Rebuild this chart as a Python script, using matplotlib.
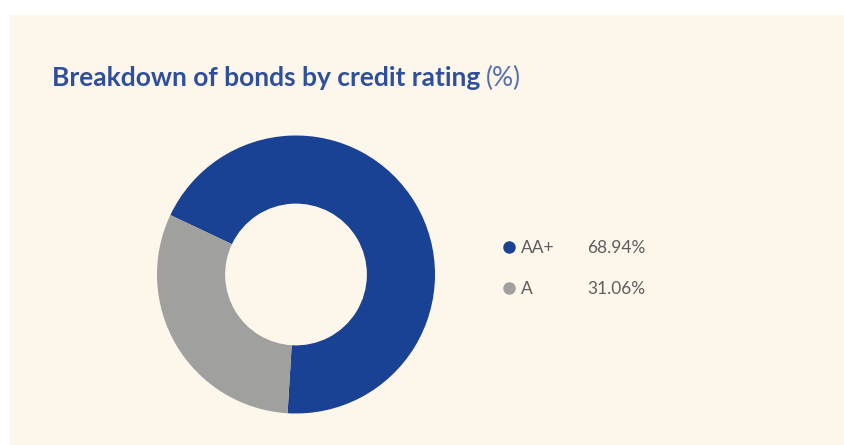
import matplotlib.pyplot as plt
from matplotlib.patches import Rectangle

# credit rating shares (%)
ratings = ['AA+', 'A']
shares = [68.94, 31.06]
colors = ['#194294', '#a0a09f']

title_main = 'Breakdown of bonds by credit rating'
title_unit = '(%)'

W, H = 845, 445
fig = plt.figure(figsize=(W / 100, H / 100), dpi=100)
fig.patch.set_facecolor('white')

# overlay in pixel coords for background panel, title and legend
bg = fig.add_axes([0, 0, 1, 1])
bg.set_xlim(0, W)
bg.set_ylim(H, 0)
bg.axis('off')
bg.add_patch(Rectangle((10, 15), W - 10, H - 15, color='#fdf6ea', lw=0))

title_color = '#2e4f9d'
t = bg.text(52, 86, title_main, fontsize=19, fontweight='bold', family='Lato',
            color=title_color, va='baseline', ha='left')
fig.canvas.draw()
bb = t.get_window_extent()
bg.text(bb.x1 + 6, 86, title_unit, fontsize=19, family='Lato',
        color='#5570b0', va='baseline', ha='left')

# donut
cx, cy, R = 296, 274.5, 139
ax = fig.add_axes([(cx - R) / W, (H - cy - R) / H, 2 * R / W, 2 * R / H])
ax.pie(shares, colors=colors, startangle=154.7, counterclock=False,
       wedgeprops=dict(width=0.49, linewidth=0))
ax.set_xlim(-1, 1)
ax.set_ylim(-1, 1)
ax.set_aspect('equal')
ax.axis('off')

# legend rows
for i, (name, val, c) in enumerate(zip(ratings, shares, colors)):
    y = 253 + i * 41
    bg.plot(509, y - 6.5, 'o', ms=9, color=c, mec='none')
    bg.text(521, y, name, fontsize=12.5, family='Lato',
            color='#5e5e5e', va='baseline')
    bg.text(587, y, f'{val:.2f}%', fontsize=12.5, family='Lato',
            color='#5e5e5e', va='baseline')

fig.savefig('out.png', dpi=100, facecolor=fig.get_facecolor())
